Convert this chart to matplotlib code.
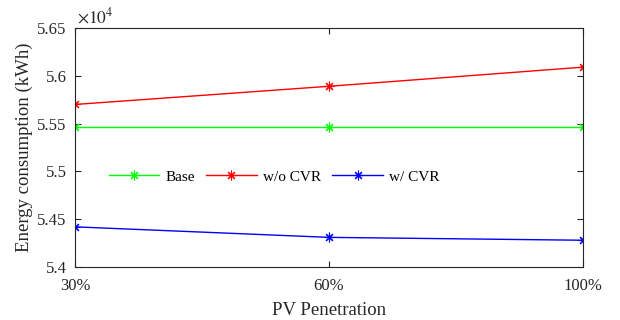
import matplotlib
matplotlib.use("Agg")
import matplotlib.pyplot as plt
from matplotlib.ticker import FuncFormatter

categories = ["30%", "60%", "100%"]
base = [55460, 55460, 55460]
wo_cvr = [55700, 55890, 56090]
w_cvr = [54420, 54310, 54280]

plt.rcParams['font.family'] = ['Liberation Serif', 'DejaVu Serif']
plt.rcParams['mathtext.fontset'] = 'stix'

fig = plt.figure(figsize=(6.2, 3.2), dpi=100)
ax = fig.add_axes([0.121, 0.1656, 0.819, 0.747])

x = list(range(1, len(categories) + 1))
mk = dict(marker=(8, 2, 0), markersize=7, markeredgewidth=0.8, lw=1)
ax.plot(x, base, color=(0, 1, 0), label="Base", **mk)
ax.plot(x, wo_cvr, color=(1, 0, 0), label="w/o CVR", **mk)
ax.plot(x, w_cvr, color=(0, 0, 1), label="w/ CVR", **mk)

ax.set_xlim(1, 3)
ax.set_ylim(54000, 56500)
ax.set_xticks(x)
ax.set_xticklabels(categories)
ax.set_yticks([54000, 54500, 55000, 55500, 56000, 56500])
ax.yaxis.set_major_formatter(FuncFormatter(lambda v, p: f"{v/1e4:g}"))
ax.tick_params(direction='in', top=True, right=True, labelsize=12, length=4,
               color='#262626', labelcolor='#262626')
ax.tick_params(axis='x', pad=8)
ax.tick_params(axis='y', pad=6)
for s in ax.spines.values():
    s.set_color('#262626')
    s.set_linewidth(0.8)

ax.text(0.004, 1.005, r"$\times10^{4}$", transform=ax.transAxes, fontsize=12.5,
        ha='left', va='bottom', color='#262626')

ax.set_xlabel("PV Penetration", fontsize=13.5, color='#262626', labelpad=6)
ax.set_ylabel("Energy consumption (kWh)", fontsize=13.5, color='#262626', labelpad=3)

ax.legend(loc='center', bbox_to_anchor=(0.392, 0.377), ncol=3, frameon=False,
          fontsize=11, handlelength=3.3, handletextpad=0.4, columnspacing=0.75,
          borderpad=0)

fig.savefig("out.png", dpi=100)
